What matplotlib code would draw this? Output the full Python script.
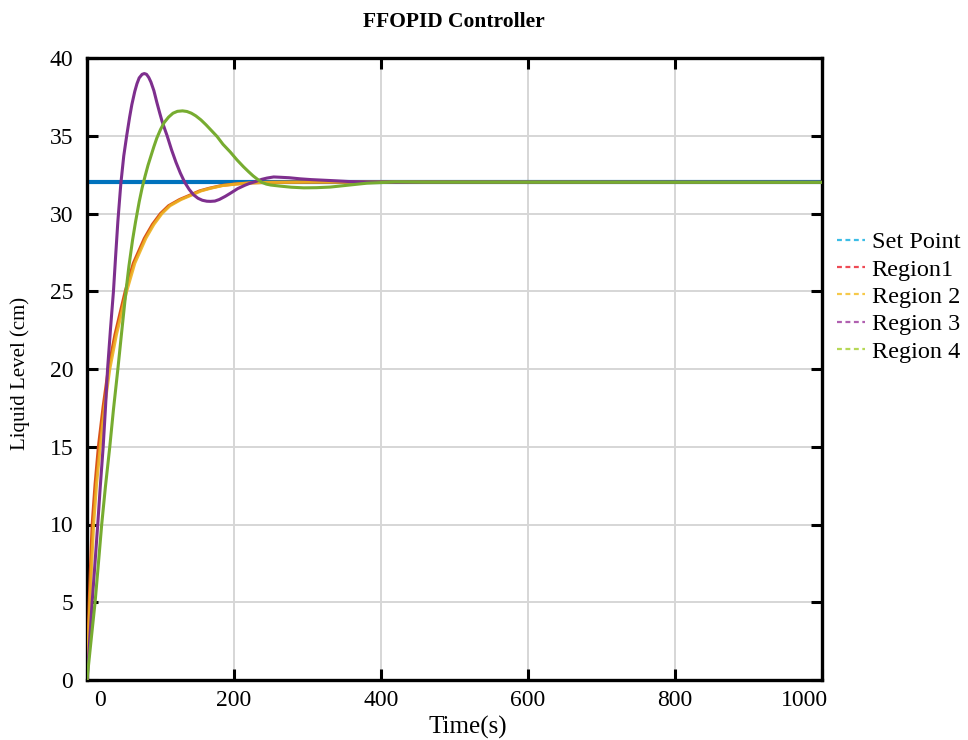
import matplotlib
matplotlib.use("Agg")
import matplotlib.pyplot as plt
from matplotlib.lines import Line2D
from matplotlib.transforms import ScaledTranslation

# ---- data ----
setpoint_t = [0, 1000]
setpoint_y = [32, 32]

region1_t = [0, 1.5, 3, 5, 7, 11, 15.5, 22, 29, 38, 52, 63, 78, 89, 100, 111, 126, 141, 153,
             166, 183, 202, 223, 243, 300, 1000]
region1_y = [0, 2.6, 5, 7.6, 10, 12.6, 15, 17.6, 20, 22.2, 25, 26.8, 28.4, 29.3, 30, 30.5, 30.9, 31.2, 31.45,
             31.62, 31.8, 31.9, 31.97, 32.0, 32.02, 32.0]

region2_t = [0, 2, 4, 6.5, 9, 13, 18, 24, 31, 40, 54, 65, 80, 91, 102, 113, 128, 143, 155,
             168, 185, 204, 225, 245, 300, 1000]
region2_y = [0, 2.6, 5, 7.6, 10, 12.6, 15, 17.6, 20, 22.2, 25, 26.8, 28.4, 29.3, 30, 30.5, 30.9, 31.2, 31.45,
             31.62, 31.8, 31.9, 31.97, 32.0, 32.02, 32.0]

region3_t = [0, 4, 7, 11, 14.6, 18, 22, 25, 28, 32, 36, 39, 42, 46, 50, 54, 58, 61, 65, 68, 71, 75,
             78, 81, 84, 87, 91, 95, 99, 102, 106, 109, 115, 121, 127, 133, 139, 145, 151, 157, 163,
             168, 174, 180, 188, 195, 205, 215, 222, 229, 238, 245, 254, 263, 275, 290, 305, 331,
             355, 381, 420, 1000]
region3_y = [0, 2.8, 5, 7.6, 10, 12.4, 15, 17.4, 20, 22.6, 25, 27.3, 29.5, 31.9, 33.7, 35.0, 36.2, 37.0, 37.85,
             38.35, 38.72, 38.95, 39.0, 38.95, 38.75, 38.45, 37.9, 37.15, 36.45, 35.95, 35.4, 35.0, 34.1,
             33.3, 32.6, 32.0, 31.55, 31.2, 30.98, 30.85, 30.79, 30.78, 30.8, 30.9, 31.1, 31.3, 31.6,
             31.82, 31.95, 32.05, 32.2, 32.28, 32.35, 32.33, 32.3, 32.23, 32.18, 32.12, 32.06, 32.02,
             32.0, 32.0]

region4_t = [0, 5, 11, 15, 20, 25, 31, 36, 42, 47, 53, 57, 62, 66, 71, 75, 79, 83, 87, 91, 95, 100,
             105, 111, 117, 123, 130, 136, 142, 148, 155, 162, 168, 177, 185, 195, 204, 213, 220,
             226, 232, 238, 244, 250, 263, 278, 295, 312, 331, 355, 381, 420, 460, 1000]
region4_y = [0, 2.3, 5, 7.2, 10, 12.4, 15, 17.4, 20, 22.3, 25, 26.6, 28.3, 29.45, 30.75, 31.65, 32.4, 33.1,
             33.7, 34.3, 34.85, 35.4, 35.85, 36.2, 36.45, 36.57, 36.6, 36.56, 36.45, 36.28, 36.02, 35.7,
             35.4, 34.95, 34.45, 33.95, 33.45, 33.0, 32.68, 32.42, 32.2, 32.0, 31.89, 31.83, 31.76,
             31.69, 31.65, 31.66, 31.7, 31.82, 31.95, 32.03, 32.01, 32.0]

legend_labels = ["Set Point", "Region1", "Region 2", "Region 3", "Region 4"]
xticks = [0, 200, 400, 600, 800, 1000]
yticks = [0, 5, 10, 15, 20, 25, 30, 35, 40]

# ---- styling ----
serif = ["Liberation Serif", "DejaVu Serif"]
plt.rcParams["font.family"] = serif

fig = plt.figure(figsize=(9.68, 7.4), dpi=100)
ax = fig.add_axes([87 / 968, 60 / 740, (822 - 87) / 968, (680 - 58) / 740])

ax.plot(setpoint_t, setpoint_y, color="#0072BD", lw=3.0, zorder=2.5)
ax.plot(region1_t, region1_y, color="#D95319", lw=2.2, zorder=3)
ax.plot(region2_t, region2_y, color="#EDB120", lw=2.2, alpha=0.9, zorder=4)
ax.plot(region3_t, region3_y, color="#7E2F8E", lw=2.2, zorder=4)
ax.plot(region4_t, region4_y, color="#77AC30", lw=2.2, zorder=4)

ax.set_xlim(0, 1000)
ax.set_ylim(0, 40)
ax.set_xticks(xticks)
ax.set_yticks(yticks)
ax.grid(True, color="#d6d6d6", lw=1.4)
ax.set_axisbelow(True)
for s in ax.spines.values():
    s.set_linewidth(2.4)
    s.set_color("black")
ax.tick_params(direction="in", length=8, width=2.2, top=True, right=True,
               labelsize=17, colors="black")
ax.tick_params(axis="x", pad=7)
ax.tick_params(axis="y", pad=10)

# tick labels "0" and "1000" are nudged in the reference
fig.canvas.draw()
xt = ax.xaxis.get_major_ticks()
lab0 = xt[0].label1
lab0.set_transform(lab0.get_transform() + ScaledTranslation(13 / 100, 0, fig.dpi_scale_trans))
labN = xt[-1].label1
labN.set_transform(labN.get_transform() + ScaledTranslation(-18 / 100, 0, fig.dpi_scale_trans))

ax.set_xlabel("Time(s)", fontsize=18, va="center")
ax.xaxis.set_label_coords((468 - 87) / 735, (680 - 727) / 622)
ax.set_ylabel("Liquid Level (cm)", fontsize=15, va="center")
ax.yaxis.set_label_coords((20 - 87) / 735, (680 - 373) / 622)
fig.text(454 / 968, 1 - 22 / 740, "FFOPID Controller", ha="center", va="center",
         fontsize=15.5, fontweight="bold")

leg_colors = ["#3cbde6", "#ee4a55", "#f6c94a", "#b060b0", "#b6d856"]
handles = [Line2D([0], [0], color=c, lw=1.6, ls=(0, (2.2, 1.6))) for c in leg_colors]
fig.legend(handles, legend_labels, loc="center left",
           bbox_to_anchor=(837 / 968, 1 - 297 / 740), frameon=False,
           fontsize=17.5, handlelength=1.15, handletextpad=0.28, labelspacing=0.22,
           borderpad=0, borderaxespad=0)

fig.savefig("out.png", dpi=100)
